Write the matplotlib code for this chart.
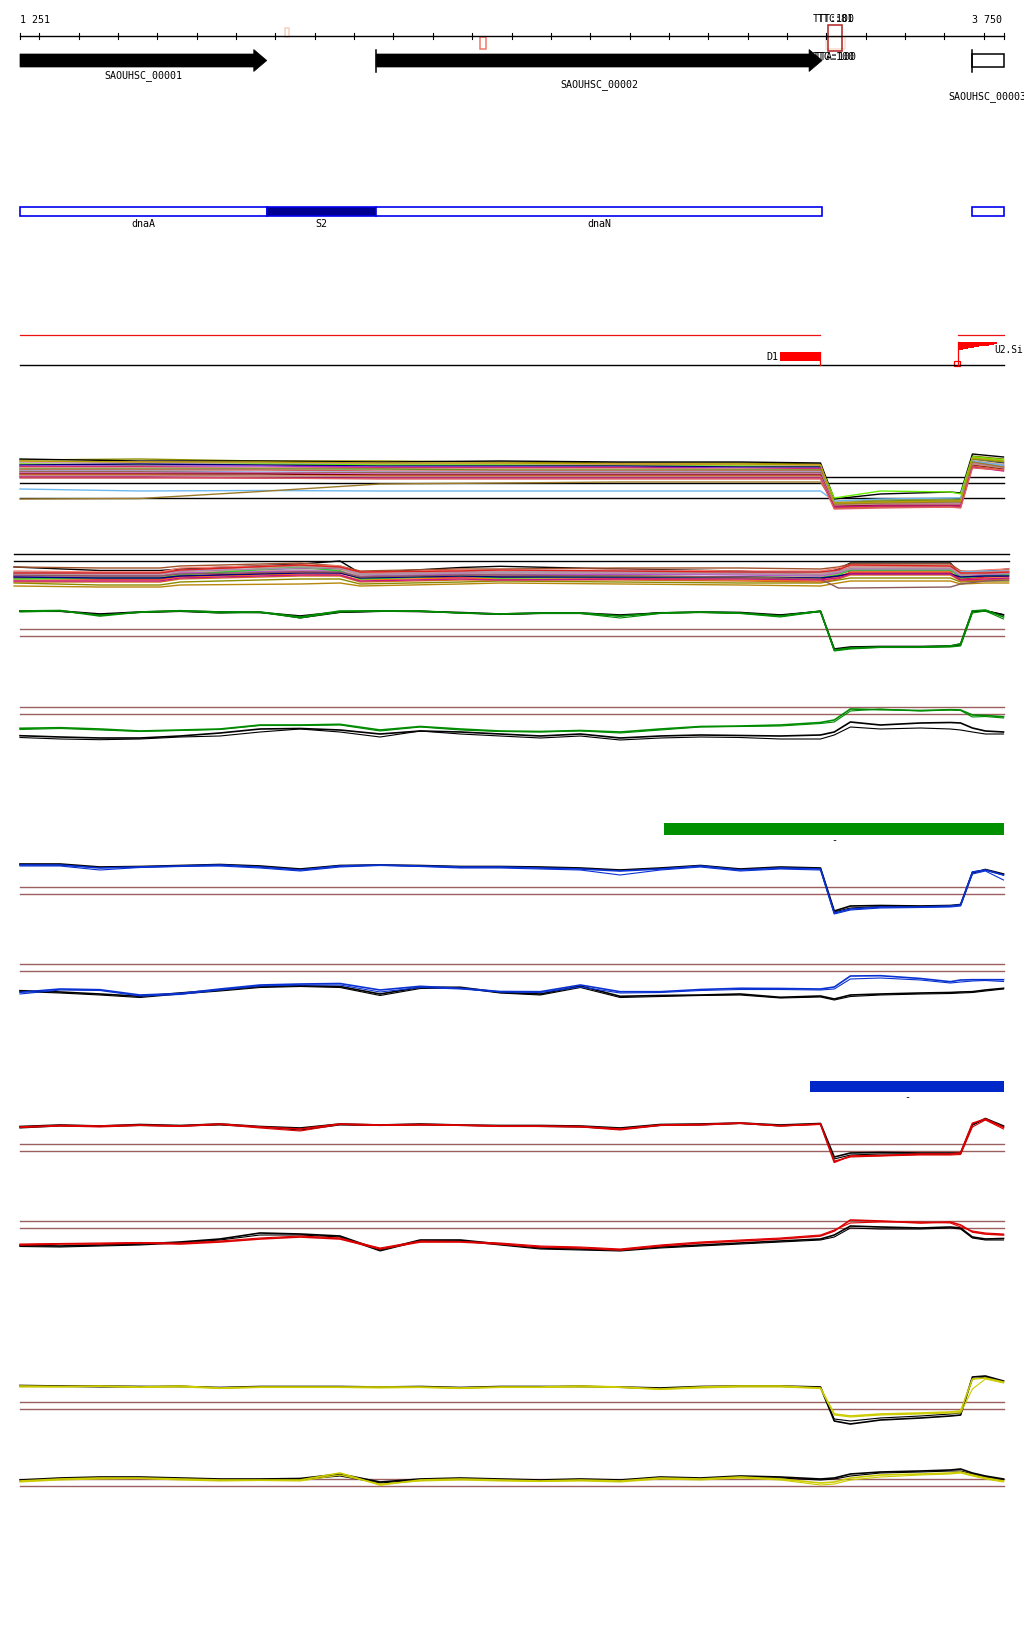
import matplotlib.pyplot as plt
import matplotlib.patches as mpatches

W, H = 1024, 1640
BP0, BP1 = 1251, 3750
BPP = (BP1 - BP0) / (1003.5 - 20)
XLIM = (BP0 - 20 * BPP, BP1 + (W - 1003.5) * BPP)
FONT = dict(family='DejaVu Sans Mono', fontsize=7.2)

# --- annotation data ---
GENE_NAMES = ['SAOUHSC_00001', 'SAOUHSC_00002', 'SAOUHSC_00003']
GENE_START = [517, 2156, 3670]
GENE_END = [1878, 3289, 3915]
GENE_LABEL_ROW = [76, 85, 97]

FEAT_NAMES = ['dnaA', 'S2', 'dnaN', '']
FEAT_START = [517, 1878, 2156, 3670]
FEAT_END = [1878, 2156, 3289, 3915]
FEAT_FILLED = [False, True, False, False]

MARK_START = [1925, 2421, 3298, 3304]
MARK_END = [1935, 2434, 3346, 3340]
MARK_TOP = [29, 38, 38, 25.7]
MARK_BOTTOM = [38, 50, 50, 52.3]
MARK_COLOR = ['#f8d0c0', '#f07868', '#fadcd0', '#b02020']
SITE_TOP = ['TTT:100', 'TTC:81']
SITE_BOTTOM = ['TTG:100', 'TTA:100']
SITE_BP = 3318

REGION_RED = [(1251, 3285), (3634, 3750)]
D1 = (3183, 3283)
U2_X = [3634, 3648, 3661, 3674, 3688, 3701, 3714, 3727, 3734]
U2_H = [8, 7, 6, 5, 4, 3.5, 3, 2, 2]

GREEN_BAR = (2888, 3750)
BLUE_BAR = (3259, 3750)

# --- multi-sample bundle tracks ---
A_GRID = [1251, 1556, 1861, 2166, 2471, 2776, 3081, 3285, 3320, 3437, 3615, 3641, 3671, 3750]
A_SERIES = [
    [54, 55, 53, 53, 52, 51, 51, 50, 12, 14, 15, 14, 58, 55],
    [55, 53, 53, 52, 53, 52, 52, 51, 15, 20, 22, 21, 60, 57],
    [52, 52, 51, 50, 50, 50, 49, 49, 10, 11, 12, 11, 56, 52],
    [51, 51, 51, 50, 49, 49, 48, 48, 9, 10, 11, 10, 55, 50],
    [50, 49, 50, 49, 49, 48, 48, 47, 16, 23, 22, 20, 57, 54],
    [49, 50, 49, 48, 48, 48, 47, 47, 11, 12, 13, 12, 54, 51],
    [48, 48, 48, 47, 47, 47, 46, 46, 10, 11, 11, 11, 53, 49],
    [47, 47, 46, 46, 46, 46, 45, 45, 8, 9, 10, 9, 52, 48],
    [46, 46, 46, 45, 45, 45, 45, 44, 12, 13, 14, 13, 54, 50],
    [45, 45, 45, 45, 44, 44, 44, 44, 11, 13, 14, 14, 55, 52],
    [44, 44, 44, 43, 43, 43, 43, 43, 7, 8, 9, 8, 51, 47],
    [43, 43, 42, 42, 42, 42, 42, 42, 10, 11, 12, 11, 52, 49],
    [42, 42, 41, 41, 41, 41, 41, 41, 6, 7, 8, 7, 50, 46],
    [41, 41, 41, 40, 40, 40, 40, 40, 9, 10, 10, 10, 51, 47],
    [40, 40, 40, 39, 39, 39, 39, 39, 8, 9, 9, 9, 49, 45],
    [39, 39, 38, 38, 38, 38, 38, 38, 6, 7, 7, 7, 48, 44],
    [38, 38, 38, 37, 37, 37, 37, 37, 9, 10, 10, 10, 50, 46],
    [25, 23, 23.5, 23, 23, 23, 23, 23, 13, 15, 16, 16, 53, 48],
    [15, 15.5, 22.5, 30, 31, 32, 32, 32, 10, 11, 12, 12, 52, 47],
    [37, 37, 36, 36, 36, 36, 36, 36, 7, 8, 8, 8, 47, 43],
    [53, 52, 52, 51, 51, 50, 50, 49, 11, 12, 13, 13, 56, 53],
    [36, 36, 36, 35, 35, 35, 35, 35, 5, 6, 7, 6, 46, 44],
]
A_COLORS = ['#8b8b00', 'black', '#fa8072', '#c8a0c8', '#66ee00', '#000070', '#9932cc',
            '#dc143c', '#d2b48c', '#6b8e23', '#cd5c5c', '#8fa8d8', '#8b4513', '#da70d6',
            '#800000', '#d2691e', '#bc8f8f', '#6cb8ee', '#9b7b2b', '#c71585', '#b8a000',
            '#e06060']
A_LEVELS = [36.7, 30.7, 15.7]

B_GRID = [1236, 1454, 1607, 1658, 1963, 2064, 2115, 2370, 2471, 2776, 3081, 3285,
          3330, 3361, 3615, 3641, 3704, 3763]
B_SERIES = [
    [32, 28.5, 28.5, 30, 35, 38, 26, 31.5, 32.7, 30, 28, 24, 30, 36, 36, 25, 28, 30],
    [32, 31, 31, 33, 36, 33, 28, 30, 30, 31, 31, 30, 32, 35, 35, 28, 27, 27],
    [28, 27, 27, 31, 34, 33, 26, 29, 28, 29, 28, 28, 31, 33, 33, 27, 29, 30],
    [26, 25, 25, 28, 30, 30, 25, 27, 27, 28, 27, 27, 29, 29, 30, 27, 28, 28],
    [24, 23, 23, 27, 31, 30, 23, 26, 25, 24, 25, 24, 26, 28, 28, 24, 25, 26],
    [22, 22, 22, 25, 33, 31, 22, 24, 23, 23, 22, 22, 25, 30, 30, 23, 24, 25],
    [25, 24, 24, 27, 29, 29, 24, 26, 25, 26, 25, 25, 27, 31, 31, 25, 26, 27],
    [23, 23, 23, 26, 28, 28, 22, 25, 24, 25, 24, 23, 26, 30, 30, 22, 24, 25],
    [19, 19, 19, 22, 25, 24, 19, 21, 20, 20, 19, 18, 22, 27, 27, 19, 21, 21],
    [16, 14, 14, 17, 20, 20, 15, 17, 18, 17, 16, 16, 19, 21, 21, 17, 18, 18],
    [21, 20, 20, 23, 27, 26, 21, 22, 22, 21, 21, 20, 23, 26, 26, 20, 22, 23],
    [20, 21, 21, 24, 32, 28, 20, 23, 21, 22, 21, 21, 24, 29, 29, 21, 23, 24],
    [22, 21, 21, 23, 26, 26, 21, 23, 22, 22, 22, 21, 23, 25, 25, 22, 23, 23],
    [27, 26, 26, 29, 33, 32, 25, 27, 27, 27, 26, 26, 28, 32, 32, 26, 27, 28],
    [17, 17, 17, 20, 23, 23, 17, 19, 19, 19, 18, 17, 20, 24, 24, 18, 19, 20],
    [13, 12, 12, 14, 15, 16, 13, 15, 16, 15, 14, 13, 16, 18, 18, 15, 16, 16],
    [24, 23, 23, 25, 27, 27, 22, 24, 24, 23, 22, 20, 11, 11, 12, 15, 18, 19],
    [18, 18, 18, 21, 24, 24, 18, 20, 19, 20, 20, 19, 21, 25, 25, 19, 20, 21],
    [25, 25, 25, 28, 31, 31, 24, 26, 26, 26, 25, 24, 27, 30, 30, 24, 25, 26],
    [26, 26, 26, 29, 34, 32, 27, 28, 29, 28, 27, 27, 29, 34, 33, 26, 26, 27],
]
B_COLORS = ['black', '#a0522d', '#fa8072', '#6cb4ee', '#8b008b', '#9acd32', '#d2b48c',
            '#ba55d3', '#ff8c00', '#8b8b00', '#dc143c', '#32cd32', '#000080', '#bc8f8f',
            '#d2691e', '#b8860b', '#8b5a5a', '#c71585', '#b08cb0', '#dd2020']
B_LEVELS = [45, 37.7]

# --- paired sample tracks (two coloured + two black replicates) ---
GRID = [1251, 1353, 1454, 1556, 1658, 1759, 1861, 1963, 2064, 2166, 2268, 2370, 2471,
        2573, 2675, 2776, 2878, 2980, 3081, 3183, 3285, 3320, 3361, 3437, 3539, 3615,
        3641, 3671, 3704, 3750]

C_GREEN_A = [48, 48.5, 43, 47, 48.3, 47, 47, 42, 48, 48, 48, 46, 45, 46, 46, 43, 46, 47, 46, 43, 48, 9, 11, 12, 12, 13, 15, 48, 49, 42]
C_GREEN_B = [47, 48, 44, 46.5, 48, 46, 46.5, 41, 47, 48, 47.5, 46, 45, 45.5, 45.5, 41, 45.5, 46.5, 45.5, 42, 47.5, 8, 10, 11.5, 11.5, 12, 13, 46, 48, 40]
C_BLACK_A = [48, 48, 45, 47, 48, 47, 46.5, 43, 47, 48, 47.5, 46.5, 45, 46, 46, 44, 46, 47, 46.5, 44, 47.5, 10, 12, 12.5, 12.5, 13, 15, 48, 48, 44]
C_BLACK_B = [47.5, 47.5, 44.5, 46.5, 47.5, 46, 47, 41, 46.5, 47.5, 48, 46, 44.5, 45.5, 45.5, 43, 46.5, 46.5, 46, 43.5, 48, 9, 11, 12, 12, 12.5, 14, 47, 48.5, 44.5]

D_GREEN_A = [15.7, 16.3, 15, 13, 14, 15, 19, 19, 19.7, 14, 17.5, 15, 13, 12.5, 13.5, 12, 15, 17.5, 18, 19, 21.5, 24, 35, 34.3, 33.5, 34.3, 34, 29, 28.5, 27.3]
D_GREEN_B = [14.5, 15.5, 14, 12.5, 13.5, 14.5, 18.5, 18.5, 19, 13, 17, 14, 12.5, 12, 13, 11, 14, 17, 17.5, 18, 20.5, 22, 33, 35, 33, 34, 33.5, 27, 27.5, 26]
D_BLACK_A = [8.3, 7, 6, 6, 8, 11, 15, 15.5, 14, 10, 13, 12, 10, 8, 10, 6, 8, 9, 8.5, 8, 9, 12, 22, 19, 21, 21.5, 21, 16, 13, 12]
D_BLACK_B = [6.5, 5, 4.3, 5, 7, 8, 12, 15, 12, 7, 13, 10, 8, 6, 8, 4, 6, 7, 6.5, 5, 5, 9, 17, 15, 16, 15, 14, 12, 10, 10]

E_BLUE_A = [54, 54, 51, 52, 53, 54, 52, 49, 53, 54, 53, 52, 52, 51, 50, 48, 50, 53, 49, 51, 50, 6, 10, 12, 12, 13, 14, 47, 49, 44]
E_BLUE_B = [53, 53, 49, 51.5, 52.5, 53, 51, 48, 52, 53.5, 52.5, 51, 51, 50, 49, 44, 49, 52, 48, 50, 49, 5, 9, 11, 11.5, 12, 13, 45, 48, 39]
E_BLACK_A = [55, 55, 52, 52.5, 53.5, 54.5, 53, 50, 53.5, 54, 53.5, 52.5, 52.5, 52, 51, 49, 51, 53.5, 50, 52, 51, 8, 13, 13.5, 13, 13.5, 14.5, 46, 49.5, 45]
E_BLACK_B = [54.5, 54, 51.5, 52, 53, 54, 52.5, 49.5, 53, 54, 53, 52, 52, 51.5, 50.5, 48.5, 50.5, 53, 49.5, 51, 50.5, 7, 11, 12.5, 12.5, 13, 14, 47, 49, 44]

F_BLUE_A = [11.7, 15, 14.3, 9, 10.5, 15, 19, 20, 20.5, 14, 17.7, 15.7, 12.5, 12.3, 19, 12.3, 12.3, 14.5, 15.7, 15.5, 15, 17, 28, 28.3, 25.5, 22.3, 24, 24.3, 24.3, 24.3]
F_BLUE_B = [10, 14, 13.5, 8, 9.5, 14, 18, 19, 19, 12, 16.5, 15, 12, 11.5, 17, 11, 11.5, 13.5, 14.5, 14.5, 14, 15, 25, 26, 24, 21, 22, 23, 23.5, 22.5]
F_BLACK_A = [13.3, 12, 10, 7.7, 11, 14, 17.5, 18.3, 17.5, 10, 16.7, 16.7, 11.7, 10, 18, 7.7, 8.5, 9, 10, 6.7, 8, 5, 9, 10, 11, 11.5, 12, 12.3, 14, 15.7]
F_BLACK_B = [12.5, 11, 9, 6.5, 10, 13, 16.5, 17.5, 16.5, 8.5, 15.5, 16, 11, 9, 16.5, 6.5, 7.5, 8.5, 9, 6, 7, 4, 7.5, 9, 10, 10.5, 11, 11.5, 13, 15]

G_RED_A = [42, 43.5, 43, 44, 43, 45, 42, 40, 45, 44, 44.5, 44, 43, 43, 42.5, 40, 44, 44.5, 46, 43.3, 45, 6.7, 13, 13.5, 15, 15, 16, 45.7, 50, 41.7]
G_RED_B = [41.5, 43, 42, 43.5, 42.5, 44.5, 41, 38, 44.5, 43.5, 44, 43.5, 42.5, 42.5, 42, 39, 43.5, 44, 45.5, 43, 44.5, 8, 12, 13, 14, 14, 14.5, 42, 49, 40]
G_BLACK_A = [42.5, 44, 43, 44.5, 43.5, 45, 42.5, 41, 45, 44, 45, 44, 43.5, 43.5, 43, 41, 44.5, 45, 46, 44, 45.5, 12, 16, 16.5, 16, 16, 16, 44, 50.5, 43]
G_BLACK_B = [41, 43, 42.5, 43.5, 43, 44, 42, 39, 44, 43.5, 44, 43.5, 43, 42.5, 42, 40, 43.5, 44, 45.5, 43, 45, 10, 14, 15, 15, 15, 15.5, 45, 49.5, 42]

H_RED_A = [14, 15, 15, 16, 15, 17, 20, 22, 20, 10, 17, 17, 15, 12, 11, 9, 13, 16, 18, 20, 23, 28, 39, 38, 36, 37, 34, 27, 25, 24]
H_RED_B = [15, 15.5, 16, 16.5, 16, 18, 21, 23, 21, 11, 18, 17.5, 16, 13, 12, 10, 14, 17, 19, 21, 24, 29, 36, 37, 37, 36, 32, 28, 26, 25]
H_BLACK_A = [13.5, 13, 14, 15, 17, 20, 26, 25, 23, 9, 19, 19, 15, 11, 10, 9, 12, 14, 16, 18, 20, 24, 33, 32, 31, 32, 31, 22, 20, 20.5]
H_BLACK_B = [12.5, 12, 13, 14, 16, 19, 24, 24, 22, 8, 18, 18, 14, 10, 9, 8, 11, 13, 15, 17, 19, 22, 31, 30, 30, 31, 30, 21, 19, 19]

I_YELLOW_A = [43, 42.5, 43, 42, 43, 41, 42, 42, 42, 42, 42, 41, 42, 42, 43, 42, 40, 42, 43, 43, 41, 15, 13, 15, 16, 17, 18, 50, 51, 47]
I_YELLOW_B = [42, 42, 42.5, 41.5, 42, 40.5, 41.5, 41.5, 41.5, 41, 41.5, 40.5, 41.5, 41.5, 42, 41.5, 39.5, 41, 42, 42, 40.5, 14, 12, 14, 15, 16, 16, 40, 50, 46]
I_BLACK_A = [43.5, 43, 43, 42.5, 42.5, 41.5, 42.5, 42.5, 42.5, 42, 42.5, 41.5, 42.5, 42.5, 42.5, 42, 41, 42.5, 43, 43, 42, 8, 5, 9, 11, 13, 14, 52, 53, 48]
I_BLACK_B = [42.5, 42.5, 42, 42, 43, 41, 42, 42, 42, 42, 42, 41, 42, 42, 43, 41.5, 40.5, 42, 42.5, 42.5, 41.5, 10, 8, 11, 13, 15, 16, 50, 52, 47]

J_YELLOW_A = [13, 15, 16, 16, 15, 14, 14, 14, 21, 9, 14, 15, 14, 13, 14, 13, 16, 15, 17, 15, 11, 12, 16, 19, 20, 21, 22, 19, 16, 13]
J_YELLOW_B = [12, 14, 15, 15.5, 14, 13, 13.5, 13, 19, 10, 13, 14, 13, 12.5, 13, 12, 15, 14, 16, 14, 9, 10, 14, 17, 19, 20, 21, 18, 15, 12]
J_BLACK_A = [14, 16, 17, 17, 16, 15, 15, 15.5, 20, 12, 15, 16, 15, 14, 15, 14, 17, 16, 18, 17, 15, 16, 20, 22, 23, 24, 25, 21, 18, 15]
J_BLACK_B = [13, 15, 16, 16, 15, 14, 14.5, 14.5, 18, 11, 14, 15, 14, 13, 14, 13, 16, 15, 17, 16, 14, 15, 18, 21, 22, 23, 23, 20, 17, 14]

PAIRED = [
    # band top, band bottom, colour, coloured series, black series, threshold levels
    (600, 660, '#008c00', [C_GREEN_A, C_GREEN_B], [C_BLACK_A, C_BLACK_B], [29.7, 22.7]),
    (700, 745, '#008c00', [D_GREEN_A, D_GREEN_B], [D_BLACK_A, D_BLACK_B], [36.7, 29.7]),
    (850, 920, '#0a32d2', [E_BLUE_A, E_BLUE_B], [E_BLACK_A, E_BLACK_B], [31.7, 24.7]),
    (960, 1005, '#0a32d2', [F_BLUE_A, F_BLUE_B], [F_BLACK_A, F_BLACK_B], [39.7, 32.7]),
    (1110, 1170, '#dd0000', [G_RED_A, G_RED_B], [G_BLACK_A, G_BLACK_B], [24.7, 17.7]),
    (1210, 1260, '#dd0000', [H_RED_A, H_RED_B], [H_BLACK_A, H_BLACK_B], [38.3, 31]),
    (1370, 1430, '#cccc00', [I_YELLOW_A, I_YELLOW_B], [I_BLACK_A, I_BLACK_B], [27.4, 20]),
    (1460, 1495, '#cccc00', [J_YELLOW_A, J_YELLOW_B], [J_BLACK_A, J_BLACK_B], [15.5, 8.5]),
]
LEVEL_COLOR = '#9c5f5f'

fig = plt.figure(figsize=(W / 100, H / 100), dpi=100)
fig.patch.set_facecolor('white')

ax0 = fig.add_axes([0, 0, 1, 1])
ax0.set_xlim(XLIM)
ax0.set_ylim(H, 0)
ax0.axis('off')

# ruler
ax0.plot([BP0, BP1], [37, 37], color='black', lw=1)
ticks = [BP0] + list(range(1300, 3701, 100)) + [BP1]
for t in ticks:
    ax0.plot([t, t], [34, 40], color='black', lw=0.8)
ax0.text(BP0, 20, '1 251', ha='left', va='center', **FONT)
ax0.text(BP1 - 1 * BPP, 20, '3 750', ha='right', va='center', **FONT)

for s, e, top, bot, c in zip(MARK_START, MARK_END, MARK_TOP, MARK_BOTTOM, MARK_COLOR):
    ax0.add_patch(mpatches.Rectangle((s, top), e - s, bot - top, fc='none', ec=c, lw=1.1))
for k, txt in enumerate(SITE_TOP):
    ax0.text(SITE_BP + k * 2 * BPP, 19, txt, ha='center', va='center', **FONT)
for k, txt in enumerate(SITE_BOTTOM):
    ax0.text(SITE_BP + k * 2 * BPP, 57, txt, ha='center', va='center', **FONT)

# genes
for name, s, e, row in zip(GENE_NAMES, GENE_START, GENE_END, GENE_LABEL_ROW):
    vs, ve = max(s, BP0), min(e, BP1)
    if e <= BP1:
        hd = 13 * BPP
        pts = [(vs, 55), (ve - hd, 55), (ve - hd, 50.5), (ve, 61.5),
               (ve - hd, 72.5), (ve - hd, 68), (vs, 68)]
        ax0.add_patch(mpatches.Polygon(pts, closed=True, fc='black', ec='black', lw=0.5))
    else:
        ax0.add_patch(mpatches.Rectangle((vs, 55), ve - vs, 13, fc='white', ec='black', lw=1.1))
    if s >= BP0:
        ax0.plot([s, s], [50.5, 72.5], color='black', lw=1.1)
    ax0.text((vs + ve) / 2, row, name, ha='center', va='center', **FONT)

# features
for name, s, e, filled in zip(FEAT_NAMES, FEAT_START, FEAT_END, FEAT_FILLED):
    vs, ve = max(s, BP0), min(e, BP1)
    ax0.add_patch(mpatches.Rectangle((vs, 207.5), ve - vs, 9.5,
                                     fc='#000090' if filled else 'white', ec='#0000ee', lw=1.2))
    if name:
        ax0.text((vs + ve) / 2, 224, name, ha='center', va='center', **FONT)

# regions / sites
for s, e in REGION_RED:
    ax0.plot([s, e], [336, 336], color='#ee1111', lw=0.9)
ax0.plot([BP0, BP1], [365.5, 365.5], color='black', lw=1)
ax0.add_patch(mpatches.Rectangle((D1[0], 353.3), D1[1] - D1[0], 8.4, fc='#ff0000', ec='none'))
ax0.plot([D1[1], D1[1]], [353.3, 366], color='#ff0000', lw=0.9)
ax0.text(D1[0] - 2 * BPP, 357.5, 'D1', ha='right', va='center', **FONT)
ax0.fill_between(U2_X, [343.3] * len(U2_X), [343.3 + h for h in U2_H], step='post',
                 color='#ff0000', lw=0)
ax0.plot([U2_X[0], U2_X[0]], [343.3, 366], color='#ff0000', lw=0.9)
ax0.add_patch(mpatches.Rectangle((U2_X[0] - 4 * BPP, 362), 6 * BPP, 5, fc='none', ec='#ff0000', lw=0.9))
ax0.text(U2_X[-1] - 3 * BPP, 350, 'U2.Si', ha='left', va='center',
         family='DejaVu Sans Mono', fontsize=6.9)

# bars
ax0.add_patch(mpatches.Rectangle((GREEN_BAR[0], 824), GREEN_BAR[1] - GREEN_BAR[0], 11.7,
                                 fc='#009000', ec='none'))
ax0.text(sum(GREEN_BAR) / 2, 840, '-', ha='center', va='center', **FONT)
ax0.add_patch(mpatches.Rectangle((BLUE_BAR[0], 1081.7), BLUE_BAR[1] - BLUE_BAR[0], 11,
                                 fc='#0028c8', ec='none'))
ax0.text(sum(BLUE_BAR) / 2, 1097, '-', ha='center', va='center', **FONT)


def track(top, bottom):
    ax = fig.add_axes([0, 1 - bottom / H, 1, (bottom - top) / H])
    ax.set_xlim(XLIM)
    ax.set_ylim(0, bottom - top)
    ax.axis('off')
    ax.patch.set_alpha(0)
    return ax


axA = track(450, 515)
for lv in A_LEVELS:
    axA.plot([BP0, BP1], [lv, lv], color='black', lw=1)
for vals, c in zip(A_SERIES, A_COLORS):
    axA.plot(A_GRID, vals, color=c, lw=1.0)

axB = track(550, 600)
for lv in B_LEVELS:
    axB.plot([B_GRID[0], B_GRID[-1]], [lv, lv], color='black', lw=1)
for vals, c in zip(B_SERIES, B_COLORS):
    axB.plot(B_GRID, vals, color=c, lw=1.0)

for top, bot, col, colored, blacks, levels in PAIRED:
    ax = track(top, bot)
    for lv in levels:
        ax.plot([BP0, BP1], [lv, lv], color=LEVEL_COLOR, lw=1)
    for k, vals in enumerate(blacks):
        ax.plot(GRID, vals, color='black', lw=1.2 if k == 0 else 0.8)
    for k, vals in enumerate(colored):
        ax.plot(GRID, vals, color=col, lw=1.2 if k == 0 else 0.8)

fig.savefig('out.png', dpi=100)
